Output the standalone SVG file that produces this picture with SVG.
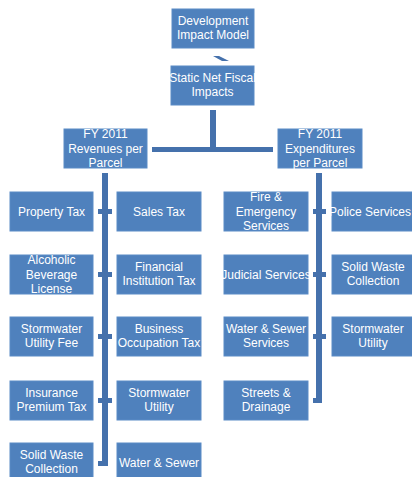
<svg xmlns="http://www.w3.org/2000/svg" width="412" height="477" viewBox="0 0 412 477">
<style>
.box{fill:#4F81BD;stroke:#5B8BC6;stroke-width:1}
.t{fill:#fff;font-family:"Liberation Sans",Arial,sans-serif;font-size:12px;text-anchor:middle}
.c{fill:#4571AC}
</style>
<rect width="412" height="477" fill="#fff"/>
<g id="connectors">
<polygon class="c" points="213,56 219,56 229,61 222,61"/>
<rect class="c" x="210" y="110" width="6" height="41"/>
<rect class="c" x="152" y="147" width="121" height="5"/>
<rect class="c" x="102" y="173" width="6" height="293"/>
<rect class="c" x="98" y="209" width="14" height="5"/>
<rect class="c" x="98" y="272" width="14" height="5"/>
<rect class="c" x="98" y="334" width="14" height="5"/>
<rect class="c" x="98" y="398" width="14" height="5"/>
<rect class="c" x="98" y="461" width="10" height="5"/>
<rect class="c" x="316" y="173" width="6" height="230"/>
<rect class="c" x="313" y="209" width="13" height="5"/>
<rect class="c" x="313" y="272" width="13" height="5"/>
<rect class="c" x="313" y="334" width="13" height="5"/>
<rect class="c" x="313" y="398" width="9" height="5"/>
</g>
<g id="dev"><rect class="box" x="172" y="9" width="82" height="39"/><text class="t" x="213" y="25">Development</text><text class="t" x="213" y="39">Impact Model</text></g>
<g id="static"><rect class="box" x="171" y="66" width="83" height="39"/><text class="t" x="212.5" y="82">Static Net Fiscal</text><text class="t" x="212.5" y="96">Impacts</text></g>
<g id="revenues"><rect class="box" x="64" y="129" width="83" height="39"/><text class="t" x="105.5" y="138">FY 2011</text><text class="t" x="105.5" y="153">Revenues per</text><text class="t" x="105.5" y="167">Parcel</text></g>
<g id="expenditures"><rect class="box" x="278" y="129" width="84" height="39"/><text class="t" x="320" y="138">FY 2011</text><text class="t" x="320" y="153">Expenditures</text><text class="t" x="320" y="167">per Parcel</text></g>
<g id="property"><rect class="box" x="10" y="192" width="83" height="39"/><text class="t" x="51.5" y="216">Property Tax</text></g>
<g id="sales"><rect class="box" x="117" y="192" width="84" height="39"/><text class="t" x="159" y="216">Sales Tax</text></g>
<g id="alcohol"><rect class="box" x="10" y="255" width="83" height="39"/><text class="t" x="51.5" y="264">Alcoholic</text><text class="t" x="51.5" y="279">Beverage</text><text class="t" x="51.5" y="293">License</text></g>
<g id="financial"><rect class="box" x="117" y="255" width="84" height="39"/><text class="t" x="159" y="271">Financial</text><text class="t" x="159" y="285">Institution Tax</text></g>
<g id="stormfee"><rect class="box" x="10" y="317" width="83" height="39"/><text class="t" x="51.5" y="333">Stormwater</text><text class="t" x="51.5" y="347">Utility Fee</text></g>
<g id="business"><rect class="box" x="117" y="317" width="84" height="39"/><text class="t" x="159" y="333">Business</text><text class="t" x="159" y="347">Occupation Tax</text></g>
<g id="insurance"><rect class="box" x="10" y="381" width="83" height="39"/><text class="t" x="51.5" y="397">Insurance</text><text class="t" x="51.5" y="411">Premium Tax</text></g>
<g id="stormutil-rev"><rect class="box" x="117" y="381" width="84" height="39"/><text class="t" x="159" y="397">Stormwater</text><text class="t" x="159" y="411">Utility</text></g>
<g id="solidwaste-rev"><rect class="box" x="10" y="443" width="83" height="39"/><text class="t" x="51.5" y="459">Solid Waste</text><text class="t" x="51.5" y="473">Collection</text></g>
<g id="water-rev"><rect class="box" x="117" y="443" width="84" height="39"/><text class="t" x="159" y="467">Water &amp; Sewer</text></g>
<g id="fire"><rect class="box" x="224" y="192" width="84" height="39"/><text class="t" x="266" y="201">Fire &amp;</text><text class="t" x="266" y="216">Emergency</text><text class="t" x="266" y="230">Services</text></g>
<g id="police"><rect class="box" x="332" y="192" width="84" height="39"/><text class="t" x="370" y="216">Police Services</text></g>
<g id="judicial"><rect class="box" x="224" y="255" width="84" height="39"/><text class="t" x="266" y="279">Judicial Services</text></g>
<g id="solidwaste-exp"><rect class="box" x="332" y="255" width="84" height="39"/><text class="t" x="373" y="271">Solid Waste</text><text class="t" x="373" y="285">Collection</text></g>
<g id="water-exp"><rect class="box" x="224" y="317" width="84" height="39"/><text class="t" x="266" y="333">Water &amp; Sewer</text><text class="t" x="266" y="347">Services</text></g>
<g id="stormutil-exp"><rect class="box" x="332" y="317" width="84" height="39"/><text class="t" x="373" y="333">Stormwater</text><text class="t" x="373" y="347">Utility</text></g>
<g id="streets"><rect class="box" x="224" y="381" width="84" height="39"/><text class="t" x="266" y="397">Streets &amp;</text><text class="t" x="266" y="411">Drainage</text></g>
</svg>
